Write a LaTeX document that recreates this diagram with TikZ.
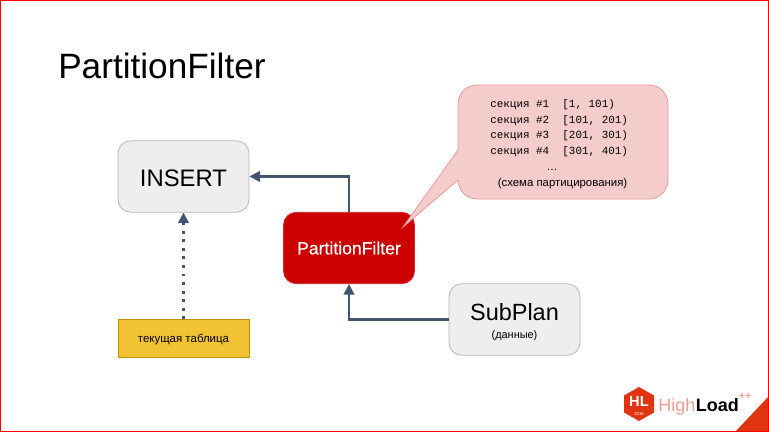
\documentclass[tikz,border=0pt]{standalone}
\usepackage{fontspec}
\setmainfont{Liberation Sans}
\setmonofont{Liberation Mono}
\usetikzlibrary{arrows.meta}
\definecolor{arrowc}{HTML}{435470}
\definecolor{greyf}{HTML}{EEEEEE}
\definecolor{greyd}{HTML}{B7B7B7}
\definecolor{redf}{HTML}{CC0000}
\definecolor{yellf}{HTML}{F1C232}
\definecolor{yelld}{HTML}{BF9000}
\definecolor{pinkf}{HTML}{F4CCCC}
\definecolor{pinkd}{HTML}{E79A9A}
\definecolor{hlred}{HTML}{E0330F}
\definecolor{hlsalmon}{HTML}{EBA092}
\newcommand{\fs}[1]{\fontsize{#1}{#1}\selectfont}
\newfontfamily\boldish[FakeBold=0.5]{Liberation Sans}
\tikzset{
  x=0.75pt,y=-0.75pt,
  flowbox/.style={inner sep=0pt,align=center,minimum width=98.25pt,line width=0.6pt},
  roundbox/.style={flowbox,rounded corners=9.5pt,minimum height=53.5pt},
  flow/.style={draw=arrowc,line width=1.6pt,-{Triangle[length=8pt,width=8pt]}},
}
\begin{document}
\begin{tikzpicture}
\useasboundingbox (0,0) rectangle (769,432);
\fill[white] (0,0) rectangle (769,432);
\node[anchor=base west,inner sep=0pt,font=\fs{26.4}] (title) at (58,79) {PartitionFilter};
\node[roundbox,draw=greyd,fill=greyf,font=\fs{17.9}] (insert) at (183.5,176.5) {\rule{0pt}{15.2pt}INSERT};
\node[roundbox,draw=redf!85!white,fill=redf,text=white,font=\boldish\fs{13.2}] (pf) at (349,248) {PartitionFilter};
\node[roundbox,draw=greyd,fill=greyf] (sub) at (514.5,319.5) {\fs{17.6}\rule{0pt}{16.6pt}SubPlan\\[2pt]\fs{8.2}(данные)};
\node[flowbox,draw=yelld,fill=yellf,minimum height=28.5pt,font=\fs{8.6}] (tbl) at (183.5,338.5) {\rule{0pt}{8.5pt}текущая таблица};
\draw[flow] (pf.north) |- (insert.east);
\draw[flow] (sub.west) -| (pf.south);
\draw[flow,dash pattern=on 2.2pt off 4.2pt] (tbl.north) -- (insert.south);
% speech bubble
\coordinate (tip) at (403,227);
\draw[draw=pinkd,fill=pinkf,line width=0.6pt]
  (458,150) -- (458,104) .. controls (458,93.5) and (466.5,85) .. (477,85)
  -- (649,85) .. controls (659.5,85) and (668,93.5) .. (668,104)
  -- (668,180) .. controls (668,190.5) and (659.5,199) .. (649,199)
  -- (477,199) .. controls (466.5,199) and (458,190.5) .. (458,180)
  -- (tip) -- cycle;
\node[anchor=west,inner sep=0pt,align=left,font=\ttfamily\fs{8.2}] (list) at (490,128) {%
  секция \#1~~[1, 101)\\[3.5pt]
  секция \#2~~[101, 201)\\[3.5pt]
  секция \#3~~[201, 301)\\[3.5pt]
  секция \#4~~[301, 401)};
\node[inner sep=0pt,font=\fs{8.2}] (dots) at (552,170) {…};
\node[inner sep=0pt,font=\fs{8.55}] (note) at (562.5,184) {(схема партицирования)};
% frame and corner
\fill[hlred] (735,432) -- (769,396) -- (769,432) -- cycle;
\draw[red,line width=0.75pt] (0.5,0.5) rectangle (768.5,431.5);
% logo
\fill[hlred] (639,387) -- (654,395.5) -- (654,412.5) -- (639,421) -- (624,412.5) -- (624,395.5) -- cycle;
\node[inner sep=0pt,text=white,font=\bfseries\fs{11}] (hl) at (639,401) {HL};
\node[inner sep=0pt,text=white,font=\fs{3.2}] (yr) at (639,414) {2016};
\node[anchor=base west,inner sep=0pt,text=hlsalmon,font=\fs{13.5}] (high) at (658,411) {High};
\node[anchor=base west,inner sep=0pt,text=black,font=\bfseries\fs{13.5}] (load) at (high.base east) {Load};
\node[inner sep=0pt,text=hlsalmon,font=\bfseries\fs{8}] (plus) at (745,396) {++};
\end{tikzpicture}
\end{document}
